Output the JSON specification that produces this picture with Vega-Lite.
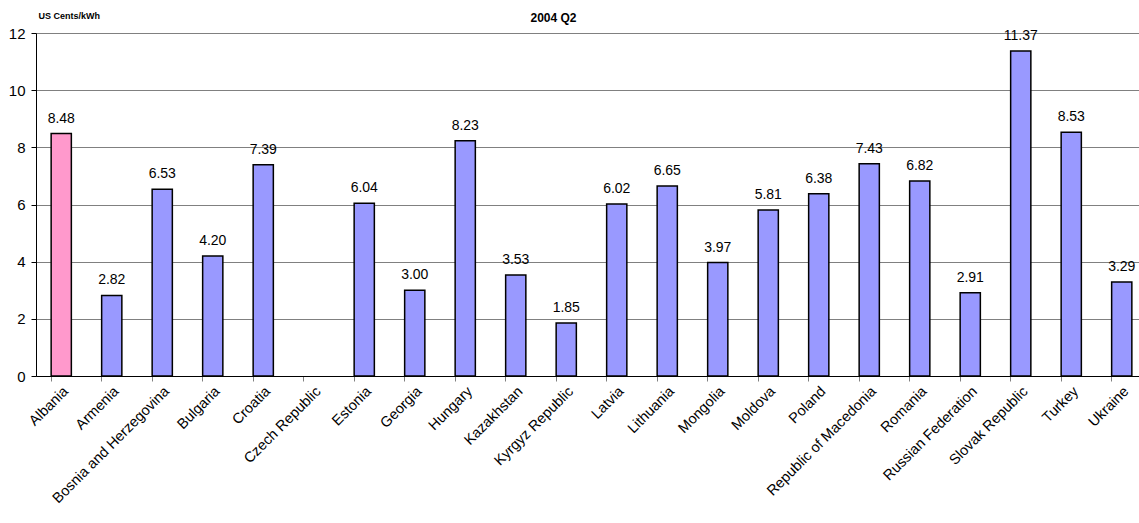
{
  "$schema": "https://vega.github.io/schema/vega-lite/v6.json",
  "autosize": "none",
  "width": 1111,
  "height": 343,
  "padding": {"left": 36, "top": 33, "right": 0, "bottom": 147},
  "background": "white",
  "title": {"text": "2004 Q2", "fontSize": 12, "fontWeight": "bold", "font": "Liberation Sans", "anchor": "middle", "dx": -38, "offset": -14, "color": "black"},
  "config": {"view": {"stroke": null}, "font": "Liberation Sans"},
  "data": {"values": [
    {"country": "Albania", "value": 8.48, "hl": "a"},
    {"country": "Armenia", "value": 2.82, "hl": "b"},
    {"country": "Bosnia and Herzegovina", "value": 6.53, "hl": "b"},
    {"country": "Bulgaria", "value": 4.20, "hl": "b"},
    {"country": "Croatia", "value": 7.39, "hl": "b"},
    {"country": "Czech Republic", "value": null, "hl": "b"},
    {"country": "Estonia", "value": 6.04, "hl": "b"},
    {"country": "Georgia", "value": 3.00, "hl": "b"},
    {"country": "Hungary", "value": 8.23, "hl": "b"},
    {"country": "Kazakhstan", "value": 3.53, "hl": "b"},
    {"country": "Kyrgyz Republic", "value": 1.85, "hl": "b"},
    {"country": "Latvia", "value": 6.02, "hl": "b"},
    {"country": "Lithuania", "value": 6.65, "hl": "b"},
    {"country": "Mongolia", "value": 3.97, "hl": "b"},
    {"country": "Moldova", "value": 5.81, "hl": "b"},
    {"country": "Poland", "value": 6.38, "hl": "b"},
    {"country": "Republic of Macedonia", "value": 7.43, "hl": "b"},
    {"country": "Romania", "value": 6.82, "hl": "b"},
    {"country": "Russian Federation", "value": 2.91, "hl": "b"},
    {"country": "Slovak Republic", "value": 11.37, "hl": "b"},
    {"country": "Turkey", "value": 8.53, "hl": "b"},
    {"country": "Ukraine", "value": 3.29, "hl": "b"}
  ]},
  "encoding": {
    "x": {"field": "country", "type": "nominal", "sort": null,
      "scale": {"domain": ["Albania", "Armenia", "Bosnia and Herzegovina", "Bulgaria", "Croatia", "Czech Republic", "Estonia", "Georgia", "Hungary", "Kazakhstan", "Kyrgyz Republic", "Latvia", "Lithuania", "Mongolia", "Moldova", "Poland", "Republic of Macedonia", "Romania", "Russian Federation", "Slovak Republic", "Turkey", "Ukraine"], "paddingInner": 0.6, "paddingOuter": 0.3},
      "axis": {"title": null, "labelAngle": -45, "labelFontSize": 14.5, "labelColor": "black",
        "bandPosition": 0, "ticks": true, "tickColor": "#808080", "tickSize": 5, "domainColor": "black", "domainWidth": 1, "labelPadding": 3, "grid": false}},
    "y": {"field": "value", "type": "quantitative",
      "scale": {"domain": [0, 12], "nice": false},
      "axis": {"values": [0, 2, 4, 6, 8, 10, 12], "grid": true, "gridColor": "#808080", "gridWidth": 1,
        "domainColor": "black", "tickColor": "black", "tickSize": 5, "labelFontSize": 15, "labelColor": "black", "labelPadding": 6,
        "title": "US Cents/kWh", "titleAngle": 0, "titleAlign": "left", "titleBaseline": "middle", "titleX": 2, "titleY": -18,
        "titleFontSize": 9, "titleFontWeight": "bold", "titleColor": "black"}}
  },
  "layer": [
    {"mark": {"type": "bar", "stroke": "black", "strokeWidth": 1.5},
      "encoding": {"color": {"field": "hl", "type": "nominal", "scale": {"domain": ["a", "b"], "range": ["#FF99CC", "#9999FF"]}, "legend": null}}},
    {"mark": {"type": "text", "baseline": "bottom", "dy": -8, "fontSize": 14, "color": "black"},
      "encoding": {"text": {"field": "value", "type": "quantitative", "format": ".2f"}}}
  ]
}
